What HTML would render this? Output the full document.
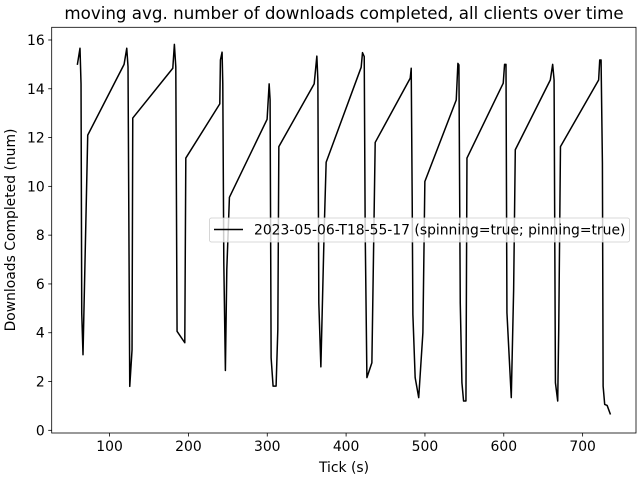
<!DOCTYPE html>
<html><head><meta charset="utf-8"><style>
html,body{margin:0;padding:0;background:#fff}
svg{display:block;font-family:"DejaVu Sans","Liberation Sans",sans-serif}
</style></head><body>
<svg id="chart" width="640" height="480" viewBox="0 0 640 480">
<rect width="640" height="480" fill="#fff"/>
<text x="344" y="19" font-size="16.7" text-anchor="middle">moving avg. number of downloads completed, all clients over time</text>
<g id="xticks"></g>
<g id="yticks"></g>
<path id="series" fill="none" stroke="#000" stroke-width="1.5" stroke-linejoin="round"/>
<rect x="51.7" y="27.3" width="584.3" height="405.7" fill="none" stroke="#000" stroke-width="0.8"/>
<text x="344" y="472" font-size="13.9" text-anchor="middle">Tick (s)</text>
<text transform="translate(15,230) rotate(-90)" font-size="13.9" text-anchor="middle">Downloads Completed (num)</text>
<g>
<rect x="209.5" y="218" width="420" height="24" rx="2" fill="#fff" fill-opacity="0.8" stroke="#ccc" stroke-width="0.8"/>
<line x1="214" y1="229.5" x2="243" y2="229.5" stroke="#000" stroke-width="1.5"/>
<text x="254" y="234.5" font-size="13.9">2023-05-06-T18-55-17 (spinning=true; pinning=true)</text>
</g>
</svg>
<script>
const xs = [59.1,62.5,63.8,64.7,66.3,72.3,118.4,121.8,123.4,125.6,128.5,129.4,180.2,182.2,184,185.6,195.4,196.7,239.8,240.6,242.7,243.6,244.9,246.9,248.7,252,299.8,302.4,303.6,304.9,307.4,311.2,313.4,314.7,359.5,362.9,364.2,365.4,368,372.2,374.7,419.1,420.8,423,424.2,426.4,432.7,436.9,481.3,482.6,483.8,484.7,487.6,492.1,497.4,499.9,539.7,541.8,543.1,544.8,546.9,549,552,553.3,599.3,601,602.8,604,609.5,612.5,614.6,659,662,663.8,665.5,668.4,669.7,671.9,720.3,721.7,723.4,725.1,726,728,731.1,735.3];
const ys = [14.98,15.66,14.2,4.8,3.1,12.1,15.0,15.66,14.9,1.8,3.3,12.8,14.84,15.82,14.9,4.06,3.59,11.16,13.38,15.18,15.5,14.2,6.86,2.45,6.6,9.55,12.75,14.2,13.55,2.97,1.81,1.81,4.13,11.63,14.2,15.34,14.36,5.22,2.6,8.2,10.99,14.88,15.48,15.32,8.2,2.16,2.77,11.8,14.43,14.84,9.6,4.75,2.16,1.34,4.0,10.2,13.54,15.04,14.98,5.22,1.95,1.2,1.2,11.16,14.23,15.0,15.0,4.82,1.34,5.77,11.5,14.36,15.0,14.36,1.95,1.2,4.13,11.63,14.36,15.18,15.18,10.95,1.81,1.06,1.02,0.65];
const xTickVals = [100,200,300,400,500,600,700];
const yTickVals = [0,2,4,6,8,10,12,14,16];

const X0=51.7, X1=636, Y0=433, Y1=27.3;
const xMin=26.6, xMax=767.7, yMin=-0.11, yMax=16.52;
function xp(v){return X0+(v-xMin)/(xMax-xMin)*(X1-X0);}
function yp(v){return Y0-(v-yMin)/(yMax-yMin)*(Y0-Y1);}
const NS="http://www.w3.org/2000/svg";
let d="";
for(let i=0;i<xs.length;i++){d+=(i?"L":"M")+xp(xs[i]).toFixed(2)+","+yp(ys[i]).toFixed(2);}
document.getElementById('series').setAttribute('d',d);
const gx=document.getElementById('xticks');
xTickVals.forEach(v=>{
  const l=document.createElementNS(NS,'line');
  l.setAttribute('x1',xp(v));l.setAttribute('x2',xp(v));l.setAttribute('y1',Y0);l.setAttribute('y2',Y0+3.5);
  l.setAttribute('stroke','#000');l.setAttribute('stroke-width','0.8');
  
  
  gx.appendChild(l);
  const t=document.createElementNS(NS,'text');
  t.setAttribute('x',xp(v));t.setAttribute('y',Y0+18);t.setAttribute('font-size','13.9');t.setAttribute('text-anchor','middle');
  t.textContent=v;
  
  
  gx.appendChild(t);
});
const gy=document.getElementById('yticks');
yTickVals.forEach(v=>{
  const l=document.createElementNS(NS,'line');
  l.setAttribute('x1',X0-3.5);l.setAttribute('x2',X0);l.setAttribute('y1',yp(v));l.setAttribute('y2',yp(v));
  l.setAttribute('stroke','#000');l.setAttribute('stroke-width','0.8');
  
  
  gy.appendChild(l);
  const t=document.createElementNS(NS,'text');
  t.setAttribute('x',X0-7);t.setAttribute('y',yp(v)+5);t.setAttribute('font-size','13.9');t.setAttribute('text-anchor','end');
  t.textContent=v;
  
  
  gy.appendChild(t);
});
</script>
</body></html>
